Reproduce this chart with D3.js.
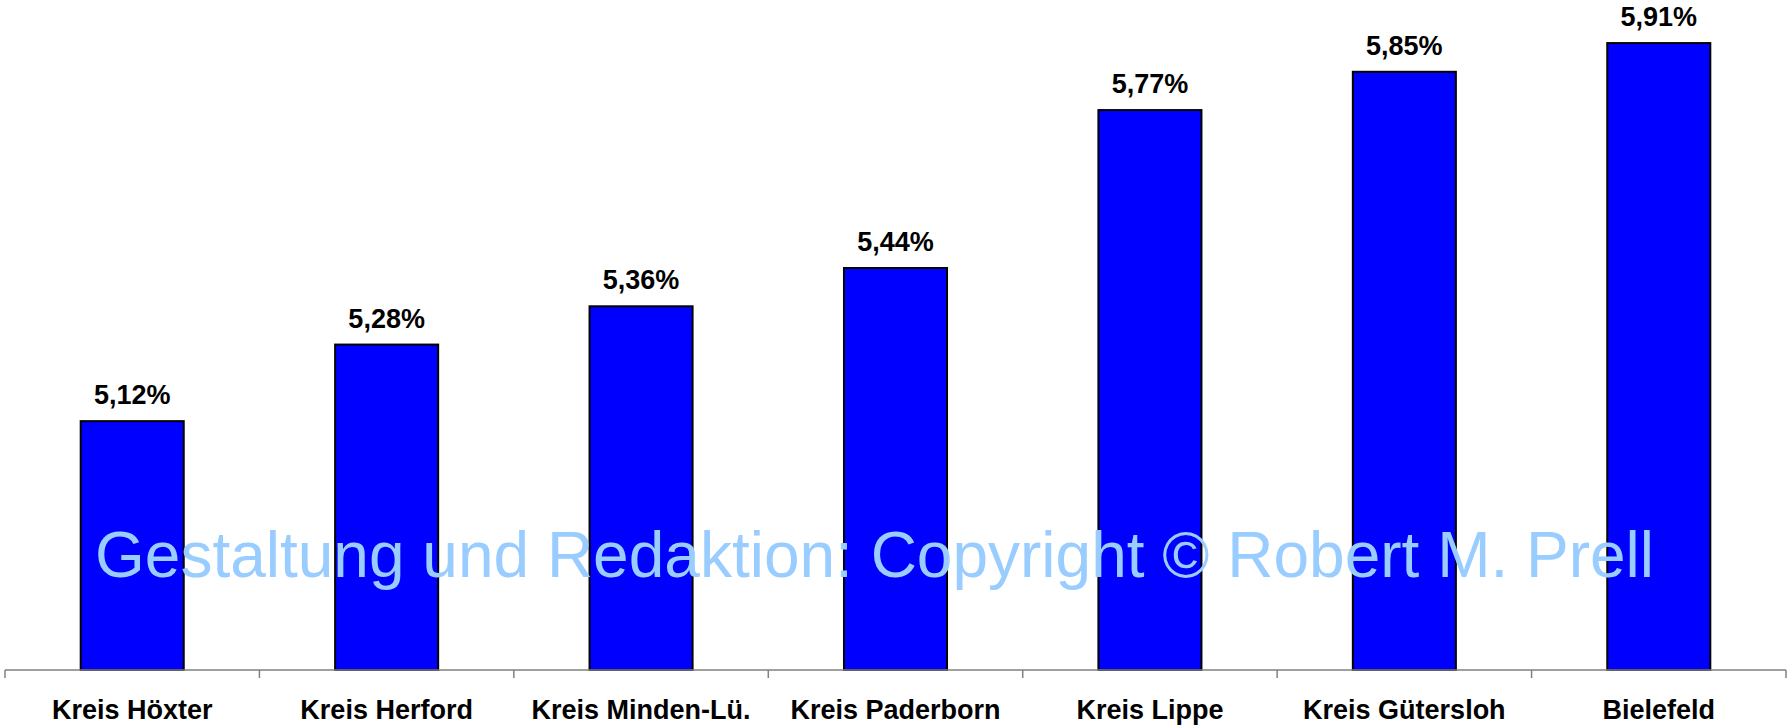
<!DOCTYPE html>
<html>
<head>
<meta charset="utf-8">
<script src="https://cdn.jsdelivr.net/npm/d3@7"></script>
<style>
  body { margin: 0; background: #fff; }
  svg { display: block; }
</style>
</head>
<body>
<div id="chart"></div>
<script>
// Kreise / Städte
const categories = ["Kreis Höxter", "Kreis Herford", "Kreis Minden-Lü.", "Kreis Paderborn", "Kreis Lippe", "Kreis Gütersloh", "Bielefeld"];
// Werte in Prozent
const values = [5.12, 5.28, 5.36, 5.44, 5.77, 5.85, 5.91];
const watermark = "Gestaltung und Redaktion: Copyright © Robert M. Prell";

var W = 1787, H = 728;
var margin = {top: 0, right: 1, bottom: 58, left: 5},
    width = W - margin.left - margin.right,
    height = H - margin.top - margin.bottom;

var svg = d3.select("#chart")
  .append("svg")
    .attr("width", W)
    .attr("height", H)
  .append("g")
    .attr("transform", "translate(" + margin.left + "," + margin.top + ")");

var x = d3.scaleBand()
  .domain(categories)
  .range([0, width])
  .paddingInner(0.595)
  .paddingOuter(0.2975);

var band = d3.scaleBand().domain(categories).range([0, width]);

var y = d3.scaleLinear()
  .domain([4.6, 6.0])
  .range([height, 0]);

// Balken
svg.selectAll("rect.bar")
  .data(values)
  .enter().append("rect")
    .attr("class", "bar")
    .attr("x", function(d, i) { return x(categories[i]); })
    .attr("width", x.bandwidth())
    .attr("y", function(d) { return y(d); })
    .attr("height", function(d) { return height - y(d); })
    .attr("fill", "#0000ff")
    .attr("stroke", "#000")
    .attr("stroke-width", 2);

// Werte-Beschriftung
svg.selectAll("text.val")
  .data(values)
  .enter().append("text")
    .attr("class", "val")
    .attr("text-anchor", "middle")
    .attr("font-family", "Liberation Sans, Arial, sans-serif")
    .attr("font-weight", "bold")
    .attr("font-size", "27px")
    .attr("x", function(d, i) { return x(categories[i]) + x.bandwidth() / 2; })
    .attr("y", function(d) { return y(d) - 17; })
    .text(function(d) { return d.toFixed(2).replace(".", ",") + "%"; });

// X-Achse
var axisG = svg.append("g")
  .attr("transform", "translate(0," + height + ")");
axisG.append("line")
  .attr("x1", 0).attr("x2", width)
  .attr("stroke", "#808080").attr("stroke-width", 1.5);
var tickPos = categories.map(function(c) { return band(c); }).concat([width]);
axisG.selectAll("line.tick")
  .data(tickPos)
  .enter().append("line")
    .attr("class", "tick")
    .attr("x1", function(d) { return d; })
    .attr("x2", function(d) { return d; })
    .attr("y1", 0).attr("y2", 8)
    .attr("stroke", "#808080").attr("stroke-width", 1.5);
axisG.selectAll("text.cat")
  .data(categories)
  .enter().append("text")
    .attr("class", "cat")
    .attr("text-anchor", "middle")
    .attr("font-family", "Liberation Sans, Arial, sans-serif")
    .attr("font-weight", "bold")
    .attr("font-size", "27px")
    .attr("x", function(d) { return x(d) + x.bandwidth() / 2; })
    .attr("y", 49)
    .text(function(d) { return d; });

// Wasserzeichen
svg.append("text")
  .attr("font-family", "Liberation Sans, Arial, sans-serif")
  .attr("font-size", "64px")
  .attr("fill", "#99ccff")
  .attr("x", 90)
  .attr("y", 577)
  .text(watermark);
</script>
</body>
</html>
